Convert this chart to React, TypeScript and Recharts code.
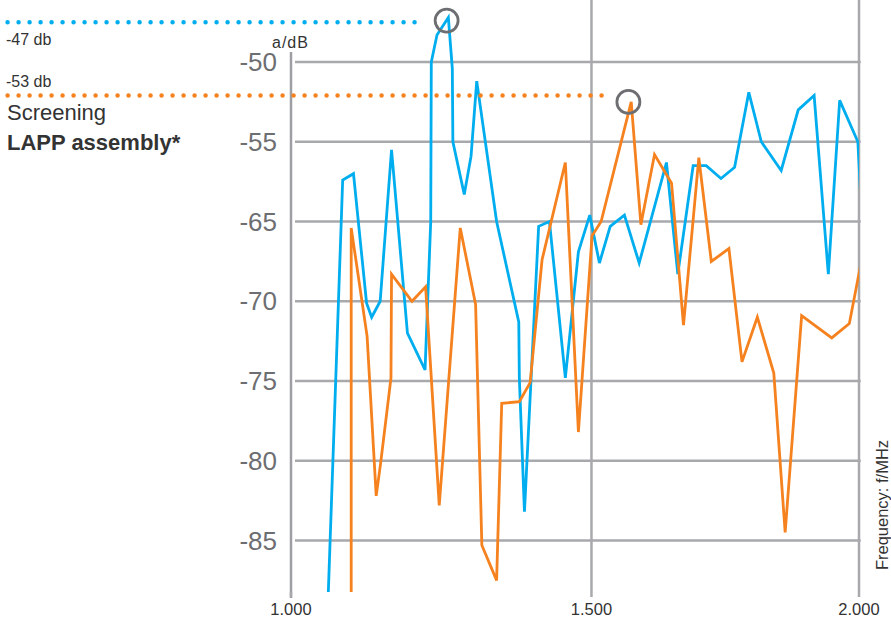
import React from 'react';
import { LineChart, Line, XAxis, YAxis, ReferenceLine, ReferenceDot } from 'recharts';

// screening measurement, frequency in MHz (axis units), level in axis dB units
const blueFreqs = [1064, 1091, 1110, 1133, 1142, 1157, 1177, 1205, 1236, 1246, 1247, 1257, 1277, 1284, 1285, 1305, 1317, 1327, 1362, 1401, 1402, 1411, 1436, 1455, 1483, 1506, 1526, 1543, 1562, 1587, 1613, 1661, 1681, 1708, 1731, 1757, 1781, 1806, 1828, 1863, 1893, 1921, 1946, 1966, 1998, 2006];
const blueLevels = [-85, -57.4, -57.0, -65.1, -66.0, -65.0, -55.5, -67.0, -69.3, -60.0, -50.0, -48.3, -47.2, -50.4, -55.0, -58.3, -55.9, -51.2, -60.0, -66.3, -69.8, -78.2, -60.3, -60.0, -69.8, -61.9, -59.6, -62.6, -60.3, -59.6, -62.6, -56.3, -63.3, -56.5, -56.5, -57.3, -56.6, -51.9, -55.0, -56.8, -53.0, -52.1, -63.3, -52.4, -55.0, -60.5];

const orangeFreqs = [1106, 1106, 1134, 1150, 1158, 1176, 1177, 1213, 1237, 1261, 1298, 1325, 1336, 1362, 1371, 1402, 1421, 1442, 1483, 1506, 1530, 1546, 1599, 1616, 1640, 1670, 1691, 1718, 1740, 1771, 1794, 1821, 1850, 1870, 1899, 1952, 1983, 2010];
const orangeLevels = [-85, -60.4, -67.2, -77.2, -75.1, -69.8, -63.3, -65.0, -64.1, -77.8, -60.4, -65.2, -80.3, -82.5, -71.4, -71.3, -70.1, -62.4, -56.3, -73.2, -60.9, -60.0, -52.5, -60.2, -55.8, -57.6, -66.5, -56.0, -62.5, -61.7, -68.8, -66.0, -69.5, -79.5, -65.9, -67.3, -66.4, -61.4];

const yTicks = [-50, -55, -60, -65, -70, -75, -80];
const yTickLabels = ['-50', '-55', '-65', '-70', '-75', '-80', '-85'];
const xTicks = [1000, 1529, 2000];
const xTickLabels = ['1.000', '1.500', '2.000'];

// peak markers: circle position and level of the dotted guide
const peakFreqs = [1274, 1594];
const peakLevels = [-47.4, -52.5];
const guideLevels = [-47.5, -52.1];
const guideEnds = [1227, 1557];
const peakLabels = ['-47 db', '-53 db'];

const BLUE = '#00AEEF';
const ORANGE = '#F5821F';
const GRID = '#A7A9AC';
const FONT = '"Liberation Sans", Arial, sans-serif';

const blueData = blueFreqs.map((f, i) => ({ f, v: blueLevels[i] }));
const orangeData = orangeFreqs.map((f, i) => ({ f, v: orangeLevels[i] }));
const guideColors = [BLUE, ORANGE];

export default function App() {
  return (
    <div style={{ position: 'absolute', left: 0, top: 0, width: 891, height: 622, fontFamily: FONT }}>
      <LineChart width={891} height={622} margin={{ top: 0, right: 32, left: 231, bottom: 0 }}>
        <XAxis
          dataKey="f"
          type="number"
          domain={[1000, 2000]}
          allowDataOverflow
          ticks={xTicks}
          tickFormatter={(v) => xTickLabels[xTicks.indexOf(v)] ?? ''}
          height={30}
          axisLine={false}
          tickSize={5}
          tickMargin={6}
          tickLine={{ stroke: GRID, strokeWidth: 2.5 }}
          tick={{ fill: '#333', fontSize: 16.5, fontFamily: FONT }}
        />
        <YAxis
          type="number"
          domain={[-83.23, -46.11]}
          allowDataOverflow
          ticks={yTicks}
          tickFormatter={(v) => yTickLabels[yTicks.indexOf(v)] ?? ''}
          width={60}
          axisLine={false}
          tickLine={false}
          tickSize={0}
          tickMargin={14}
          tick={{ fill: '#6D6E71', fontSize: 26, fontFamily: FONT }}
        />
        {yTicks.map((t) => (
          <ReferenceLine
            key={'g' + t}
            segment={[{ x: 1007, y: t }, { x: 2003, y: t }]}
            stroke={GRID}
            strokeWidth={2.5}
            ifOverflow="visible"
          />
        ))}
        <ReferenceLine x={1529} stroke={GRID} strokeWidth={2.5} />
        <ReferenceLine x={2000} stroke={GRID} strokeWidth={2.5} />
        <ReferenceLine
          segment={[{ x: 1000, y: -49.37 }, { x: 1000, y: -83.6 }]}
          stroke="#9D9FA2"
          strokeWidth={2.5}
          ifOverflow="visible"
        />
        <Line data={blueData} dataKey="v" type="linear" stroke={BLUE} strokeWidth={2.8} dot={false} isAnimationActive={false} />
        <Line data={orangeData} dataKey="v" type="linear" stroke={ORANGE} strokeWidth={2.8} dot={false} isAnimationActive={false} />
        {guideLevels.map((lv, i) => (
          <ReferenceLine
            key={'d' + i}
            segment={[{ x: 501, y: lv }, { x: guideEnds[i], y: lv }]}
            stroke={guideColors[i]}
            strokeWidth={4.5}
            strokeDasharray="0 11"
            strokeLinecap="round"
            ifOverflow="visible"
          />
        ))}
        {peakFreqs.map((f, i) => (
          <ReferenceDot
            key={'p' + i}
            x={f}
            y={peakLevels[i]}
            r={11.5}
            fill="none"
            stroke="#6D6E71"
            strokeWidth={2.8}
            ifOverflow="visible"
          />
        ))}
      </LineChart>
      <svg width={891} height={622} style={{ position: 'absolute', left: 0, top: 0, pointerEvents: 'none' }}>
        <g fontFamily={FONT} fill="#333">
          <text x={6} y={45} fontSize={16}>{peakLabels[0]}</text>
          <text x={6} y={87} fontSize={16}>{peakLabels[1]}</text>
          <text x={272} y={48} fontSize={16} letterSpacing={1}>a/dB</text>
          <text x={7} y={120} fontSize={22}>Screening</text>
          <text x={7} y={150} fontSize={22} fontWeight="bold">LAPP assembly*</text>
          <text
            x={882}
            y={505}
            fontSize={16.5}
            textAnchor="middle"
            dominantBaseline="central"
            transform="rotate(-90 882 505)"
          >
            Frequency: f/MHz
          </text>
        </g>
      </svg>
    </div>
  );
}
